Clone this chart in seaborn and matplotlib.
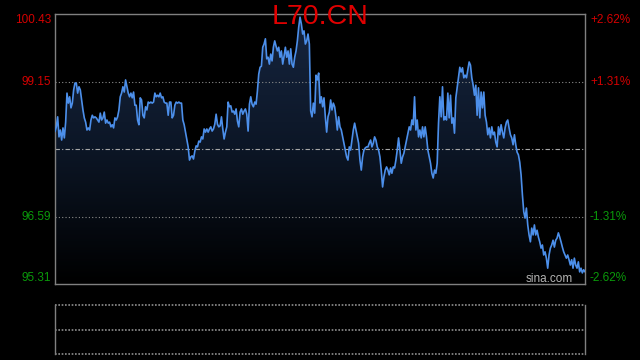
import numpy as np
import pandas as pd
import matplotlib
matplotlib.use("Agg")
import matplotlib.pyplot as plt
import seaborn as sns
from matplotlib.colors import LinearSegmentedColormap
from matplotlib.patches import Polygon

sns.set_style("dark")
plt.rcParams["font.family"] = ["Liberation Sans", "DejaVu Sans"]

title = "L70.CN"
prev_close = 97.87
y_min, y_max = 95.31, 100.43
left_ticks = [100.43, 99.15, 96.59, 95.31]
left_labels = ["100.43", "99.15", "96.59", "95.31"]
right_labels = ["+2.62%", "+1.31%", "-1.31%", "-2.62%"]
watermark = "sina.com"

prices_a = [98.20, 98.29, 98.48, 98.10, 98.23, 98.04, 98.27, 98.08, 98.38, 98.93,
            98.74, 98.86, 98.65, 98.74, 98.99, 99.12, 99.12, 98.93, 99.05, 98.99,
            98.80, 98.61, 98.46, 98.38, 98.23, 98.27, 98.23, 98.42, 98.51, 98.46,
            98.48, 98.46, 98.42, 98.38, 98.55, 98.42, 98.46, 98.57, 98.36, 98.42,
            98.36, 98.38, 98.29, 98.33, 98.27, 98.46, 98.42, 98.48, 98.61, 98.86,
            98.93, 99.05, 98.95, 99.18, 99.05, 98.93, 98.86, 98.93, 98.84, 98.95,
            98.70, 98.70, 98.42, 98.33, 98.84, 98.80, 98.51, 98.46, 98.67, 98.61,
            98.76, 98.74, 98.76, 98.74, 98.76, 98.93, 98.86, 98.89, 98.86, 98.93,
            98.84, 98.86, 98.76, 98.74, 98.74, 98.51, 98.76, 98.76, 98.46, 98.51,
            98.70, 98.76, 98.74, 98.76, 98.74, 98.74, 98.42, 98.33, 98.19, 98.04,
            97.91, 97.66, 97.72]
prices_b = [97.74, 97.68, 97.83, 97.93, 97.91, 98.02, 98.00, 98.10, 98.06, 98.25,
            98.19, 98.25, 98.19, 98.25, 98.29, 98.21, 98.25, 98.34, 98.53, 98.34,
            98.29, 98.31, 98.48, 98.25, 98.06, 98.19, 98.29, 98.76, 98.67, 98.69,
            98.57, 98.59, 98.53, 98.63, 98.40, 98.29, 98.57, 98.63, 98.53, 98.59,
            98.63, 98.53, 98.21, 98.72, 98.86, 98.72, 98.67, 98.76, 98.72, 98.97,
            99.29, 99.42, 99.44, 99.80, 99.86, 99.96, 99.58, 99.61, 99.48, 99.67,
            99.54, 99.80, 99.92, 99.82, 99.73, 99.80, 99.61, 99.73, 99.48, 99.63,
            99.80, 99.61, 99.73, 99.48, 99.77, 99.48, 99.42, 99.61, 99.73, 99.92,
            100.18, 100.37, 100.24, 100.05, 100.11, 99.86, 99.92, 100.05, 99.86, 98.59]
prices_c = [98.48, 98.74, 98.55, 99.27, 99.18, 99.31, 98.74, 98.86, 98.67, 98.84,
            98.48, 98.19, 98.48, 98.57, 98.80, 98.61, 98.74, 98.67, 98.48, 98.23,
            98.48, 98.29, 98.23, 98.10, 97.98, 97.85, 97.72, 97.66, 97.91, 97.85,
            98.04, 98.23, 98.36, 98.23, 98.10, 97.98, 97.66, 97.47, 97.72, 97.85,
            97.89, 97.91, 97.91, 97.98, 98.04, 97.91, 97.98, 98.10, 98.04, 97.91,
            97.85, 97.72, 97.47, 97.15, 97.34, 97.47, 97.53, 97.47, 97.38, 97.51,
            97.41, 97.53, 97.51, 97.66, 97.85, 98.08, 97.85, 97.60, 97.72, 97.79,
            97.91, 98.04, 98.17, 98.29, 98.23, 98.42, 98.33, 98.86, 98.23, 98.42,
            98.10, 98.23, 98.08, 98.29, 98.10, 98.29, 98.10, 97.85, 97.72, 97.60,
            97.41, 97.32, 97.47, 97.41, 97.60, 98.36, 98.86, 98.48, 99.05, 98.42,
            98.48, 98.42, 98.93]
prices_d = [98.46, 98.89, 98.36, 98.46, 98.17, 98.84, 99.03, 99.22, 99.42, 99.33,
            99.41, 99.22, 99.27, 99.22, 99.37, 99.52, 99.46, 99.22, 99.08, 98.89,
            99.08, 98.51, 99.03, 98.46, 98.95, 98.65, 98.95, 98.51, 98.38, 98.14,
            98.27, 98.08, 98.29, 98.14, 98.19, 98.00, 97.91, 98.29, 98.14, 98.33,
            98.19, 98.08, 98.27, 98.38, 98.42, 98.27, 98.14, 98.08, 97.95, 98.14,
            97.95, 97.81, 97.76, 97.62, 97.38, 97.00, 96.68, 96.56, 96.75, 96.43,
            96.24, 96.11, 96.37, 96.24, 96.43, 96.24, 96.33, 96.20, 96.11, 95.99,
            96.05, 95.86, 95.92, 95.80, 95.61, 95.86, 95.99, 96.05, 96.14, 96.01,
            96.14, 96.18, 96.28, 96.20, 96.11, 96.01, 95.92, 95.86, 95.80, 95.86,
            95.77, 95.67, 95.77, 95.61, 95.80, 95.67, 95.61, 95.73, 95.54, 95.61,
            95.52, 95.58, 95.54]

prices = prices_a + prices_b + prices_c + prices_d
n = len(prices)
df = pd.DataFrame({"t": np.arange(n), "price": prices})

fig = plt.figure(figsize=(6.4, 3.6), dpi=100, facecolor="black")
ax = fig.add_axes([55 / 640, 76 / 360, 530 / 640, 270 / 360])
ax.set_facecolor("black")
ax.grid(False)

# gradient area under line
cmap = LinearSegmentedColormap.from_list("g", ["#000000", "#0c1626", "#16253f"])
im = ax.imshow(np.linspace(0, 1, 256).reshape(-1, 1), extent=[0, n - 1, y_min, y_max],
               origin="lower", aspect="auto", cmap=cmap, zorder=1)
verts = [(0, y_min)] + list(zip(df["t"], df["price"])) + [(n - 1, y_min)]
poly = Polygon(verts, closed=True, facecolor="none", edgecolor="none")
ax.add_patch(poly)
im.set_clip_path(poly)

sns.lineplot(data=df, x="t", y="price", ax=ax, color="#4c8fea", linewidth=1.2, zorder=3)

ax.axhline(99.15, color="#8c8c8c", ls=(0, (1, 2)), lw=0.8, zorder=2)
ax.axhline(96.59, color="#8c8c8c", ls=(0, (1, 2)), lw=0.8, zorder=2)
ax.axhline(prev_close, color="#a8a8a8", ls=(0, (4, 2, 1, 2)), lw=0.8, zorder=2)

ax.set_xlim(0, n - 1)
ax.set_ylim(y_min, y_max)
ax.set_xlabel("")
ax.set_ylabel("")
ax.set_xticks([])
ax.set_yticks([])
for s in ax.spines.values():
    s.set_visible(True)
    s.set_color("#808080")
    s.set_linewidth(1.0)

red, green = "#d40000", "#0a9a0a"
label_y = [20, 82, 217, 278]
colors = [red, red, green, green]
for lab, rlab, yy, c in zip(left_labels, right_labels, label_y, colors):
    fig.text(51 / 640, 1 - yy / 360, lab, ha="right", va="center", color=c, fontsize=8.5)
    fig.text(590 / 640, 1 - yy / 360, rlab, ha="left", va="center", color=c, fontsize=8.5)

fig.text(320 / 640, 1 - 17 / 360, title, ha="center", va="center", color="#e00000", fontsize=20.5)
fig.text(573 / 640, 1 - 279 / 360, watermark, ha="right", va="center", color="#b4b4b4", fontsize=8.5)

# lower panel
ax2 = fig.add_axes([55 / 640, 6 / 360, 530 / 640, 49 / 360])
ax2.set_facecolor("black")
ax2.grid(False)
ax2.set_xlim(0, 1)
ax2.set_ylim(0, 1)
ax2.set_xticks([])
ax2.set_yticks([])
for k in ["top", "bottom"]:
    ax2.spines[k].set_visible(False)
for k in ["left", "right"]:
    ax2.spines[k].set_color("#808080")
    ax2.spines[k].set_linewidth(1.0)
for yv in [0, 0.5, 1]:
    ax2.axhline(yv, color="#909090", ls=(0, (1, 1)), lw=1.2, clip_on=False)

fig.savefig("out.png", dpi=100, facecolor="black")
